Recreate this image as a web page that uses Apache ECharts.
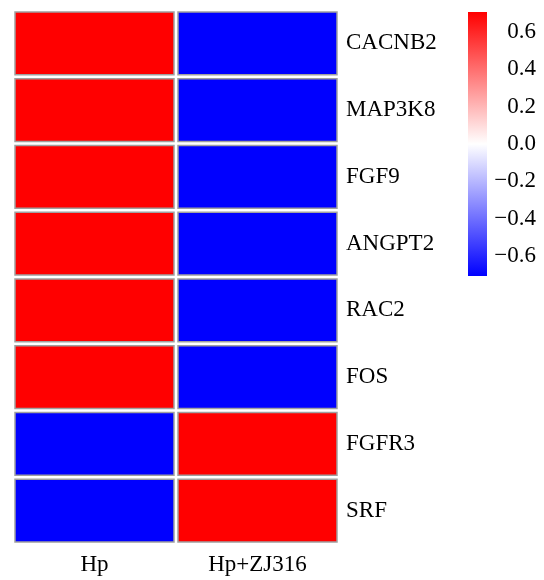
<!DOCTYPE html>
<html>
<head>
<meta charset="utf-8">
<script src="https://cdn.jsdelivr.net/npm/echarts@6/dist/echarts.min.js"></script>
<style>
  html, body { margin: 0; padding: 0; background: #fff; }
  #chart { width: 544px; height: 580px; }
</style>
</head>
<body>
<div id="chart"></div>
<script>
const genes = ['CACNB2', 'MAP3K8', 'FGF9', 'ANGPT2', 'RAC2', 'FOS', 'FGFR3', 'SRF'];
const groups = ['Hp', 'Hp+ZJ316'];
const hpValues = [0.707, 0.707, 0.707, 0.707, 0.707, 0.707, -0.707, -0.707];
const zjValues = [-0.707, -0.707, -0.707, -0.707, -0.707, -0.707, 0.707, 0.707];
const colorbarTicks = [-0.6, -0.4, -0.2, 0, 0.2, 0.4, 0.6];
const scaleMin = -0.7071;
const scaleMax = 0.7071;
const palette = ['#0000ff', '#ffffff', '#ff0000'];

const font = '"Liberation Serif", "DejaVu Serif", serif';

const cells = [];
genes.forEach((g, i) => {
  cells.push([0, i, hpValues[i]]);
  cells.push([1, i, zjValues[i]]);
});

const chart = echarts.init(document.getElementById('chart'));

chart.setOption({
  animation: false,
  grid: [
    { left: 13, top: 10, width: 326, height: 534 },
    { left: 468, top: 12, width: 19, height: 264 }
  ],
  xAxis: [
    {
      type: 'category',
      data: groups,
      gridIndex: 0,
      axisLine: { show: false },
      axisTick: { show: false },
      splitLine: { show: false },
      axisLabel: { color: '#000', fontFamily: font, fontSize: 23, margin: 9 }
    },
    {
      type: 'category',
      data: ['bar'],
      gridIndex: 1,
      show: false
    }
  ],
  yAxis: [
    {
      type: 'category',
      data: genes,
      gridIndex: 0,
      inverse: true,
      position: 'right',
      axisLine: { show: false },
      axisTick: { show: false },
      splitLine: { show: false },
      axisLabel: { color: '#000', fontFamily: font, fontSize: 23, margin: 7 }
    },
    {
      type: 'value',
      gridIndex: 1,
      min: scaleMin,
      max: scaleMax,
      position: 'right',
      axisLine: { show: false },
      axisTick: { show: false },
      splitLine: { show: false },
      axisLabel: {
        color: '#000',
        fontFamily: font,
        fontSize: 23,
        margin: 49,
        align: 'right',
        customValues: colorbarTicks,
        formatter: v => (v < 0 ? '\u2212' : '') + Math.abs(v).toFixed(1)
      }
    }
  ],
  visualMap: {
    type: 'continuous',
    show: false,
    min: scaleMin,
    max: scaleMax,
    seriesIndex: 0,
    dimension: 2,
    inRange: { color: palette }
  },
  series: [
    {
      type: 'custom',
      xAxisIndex: 0,
      yAxisIndex: 0,
      data: cells,
      encode: { x: 0, y: 1 },
      renderItem: (params, api) => {
        const c = api.coord([api.value(0), api.value(1)]);
        const s = api.size([1, 1]);
        const inset = 2;
        return {
          type: 'rect',
          shape: {
            x: c[0] - s[0] / 2 + inset,
            y: c[1] - s[1] / 2 + inset,
            width: s[0] - inset * 2,
            height: s[1] - inset * 2
          },
          style: {
            fill: api.visual('color'),
            stroke: '#a0a0a0',
            lineWidth: 1.5
          }
        };
      }
    },
    {
      // colour key
      type: 'custom',
      xAxisIndex: 1,
      yAxisIndex: 1,
      data: [[0, scaleMin, scaleMax]],
      encode: { x: 0, y: [1, 2] },
      silent: true,
      renderItem: (params, api) => {
        const lo = api.coord([api.value(0), api.value(1)]);
        const hi = api.coord([api.value(0), api.value(2)]);
        const w = api.size([1, 0])[0];
        return {
          type: 'rect',
          shape: { x: lo[0] - w / 2, y: hi[1], width: w, height: lo[1] - hi[1] },
          style: {
            fill: new echarts.graphic.LinearGradient(0, 0, 0, 1, [
              { offset: 0, color: palette[2] },
              { offset: 0.5, color: palette[1] },
              { offset: 1, color: palette[0] }
            ])
          }
        };
      }
    }
  ]
});
</script>
</body>
</html>
